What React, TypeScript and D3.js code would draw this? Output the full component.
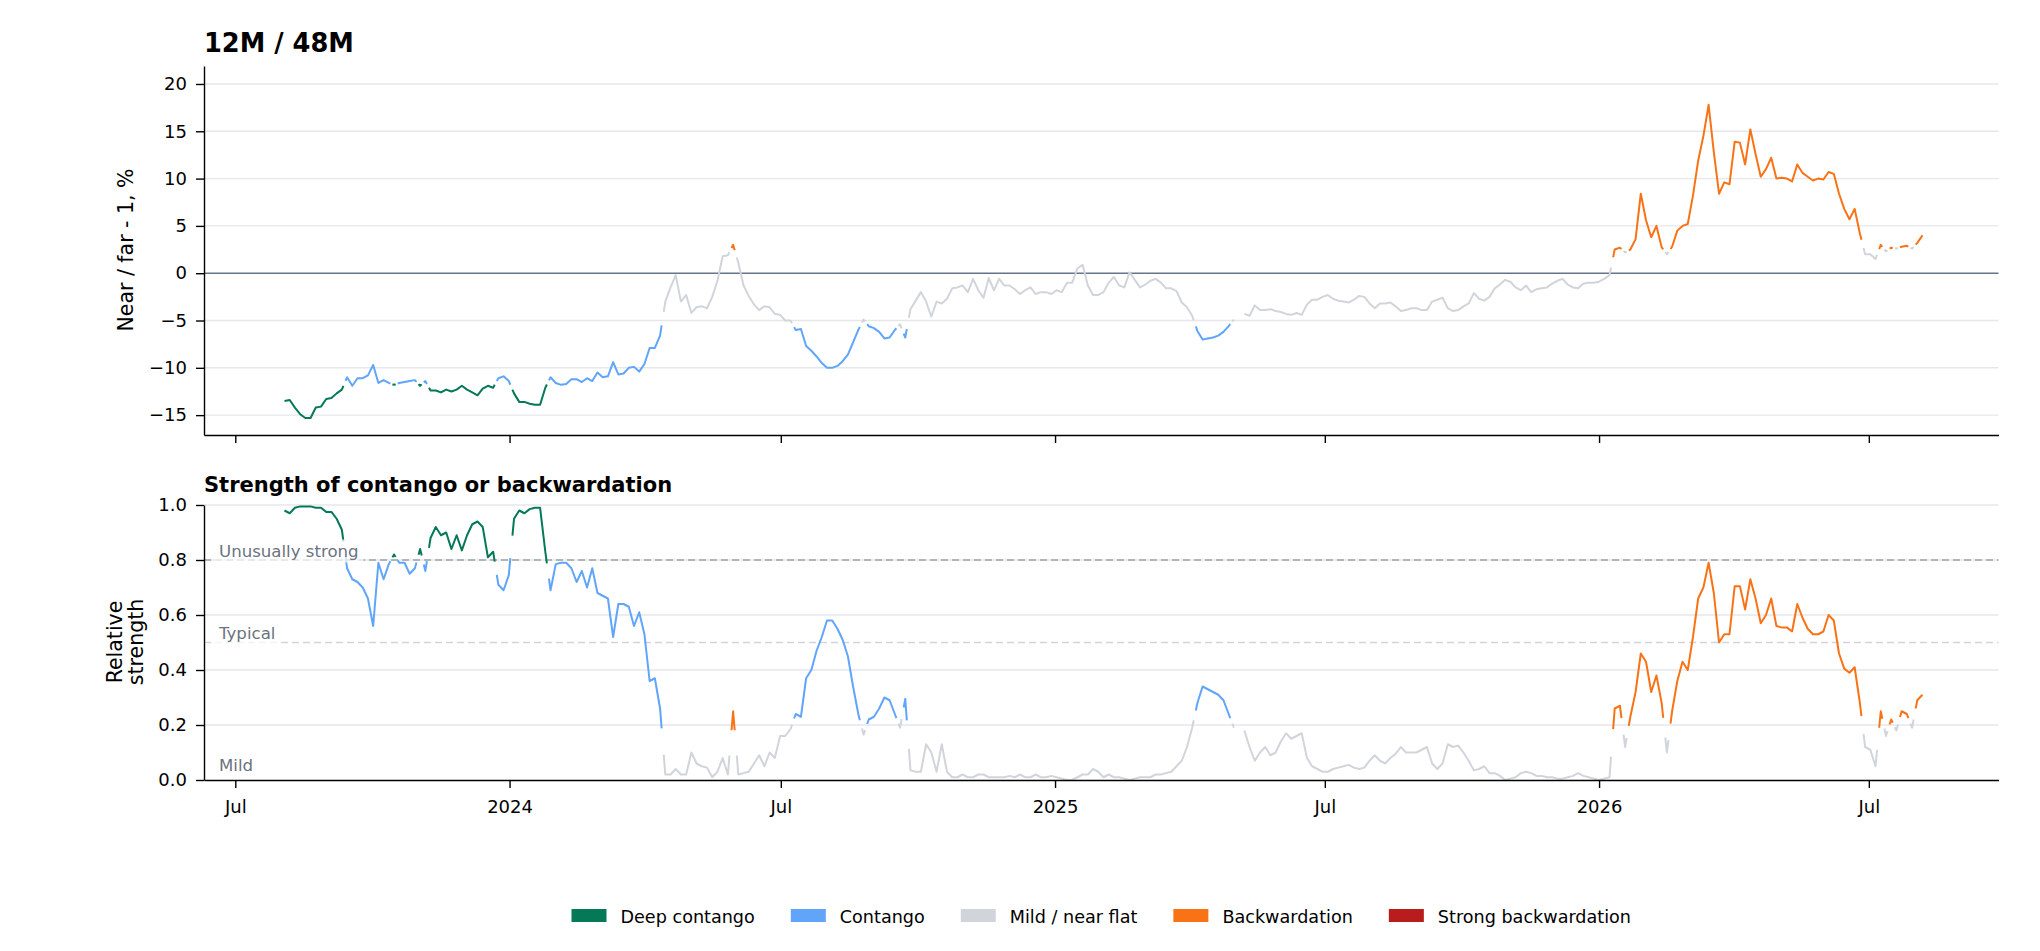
import { useEffect, useRef } from 'react';
import * as d3 from 'd3';

const WIDTH = 2040;
const HEIGHT = 951;

// observations sampled twice a week, starting 3 Aug 2023
const sampleStart = new Date(2023, 7, 3);
const sampleStepDays = 3.5;

// 12M / 48M: near / far - 1, %
const spread = [
  -13.5, -13.4, -14.2, -14.9, -15.3, -15.3, -14.2, -14.1, -13.3, -13.2,
  -12.7, -12.3, -11.0, -11.9, -11.1, -11.1, -10.8, -9.7, -11.6, -11.3,
  -11.6, -11.8, -11.6, -11.5, -11.4, -11.3, -11.9, -11.4, -12.4, -12.4,
  -12.6, -12.3, -12.5, -12.3, -11.9, -12.3, -12.6, -12.9, -12.2, -11.9,
  -12.1, -11.1, -10.9, -11.4, -12.7, -13.6, -13.6, -13.8, -13.9, -13.9,
  -12.1, -11.0, -11.6, -11.8, -11.7, -11.2, -11.2, -11.5, -11.1, -11.4,
  -10.5, -11.0, -10.9, -9.4, -10.7, -10.6, -10.0, -9.9, -10.4, -9.6,
  -7.9, -7.9, -6.6, -3.0, -1.5, -0.2, -3.0, -2.3, -4.2, -3.6,
  -3.5, -3.7, -2.5, -0.8, 1.8, 1.9, 3.0, 1.1, -1.3, -2.4,
  -3.3, -3.9, -3.5, -3.6, -4.3, -4.4, -5.0, -5.0, -6.0, -5.9,
  -7.7, -8.2, -8.8, -9.5, -10.0, -10.0, -9.8, -9.3, -8.6, -7.3,
  -6.0, -4.9, -5.6, -5.8, -6.2, -6.9, -6.8, -6.0, -5.4, -6.8,
  -3.8, -2.9, -2.0, -3.0, -4.6, -3.0, -3.2, -2.7, -1.6, -1.5,
  -1.3, -2.0, -0.6, -1.8, -2.6, -0.5, -1.8, -0.6, -1.3, -1.3,
  -1.7, -2.2, -1.8, -1.5, -2.2, -2.0, -2.0, -2.2, -1.8, -2.0,
  -1.0, -1.0, 0.5, 0.9, -1.3, -2.3, -2.3, -2.0, -1.0, -0.4,
  -1.3, -1.5, 0.1, -0.7, -1.5, -1.2, -0.8, -0.6, -1.0, -1.6,
  -1.6, -1.9, -3.1, -3.6, -4.5, -6.1, -7.0, -6.9, -6.8, -6.6,
  -6.2, -5.6, -4.9, null, -4.3, -4.5, -3.4, -3.9, -3.9, -3.8,
  -4.0, -4.1, -4.3, -4.4, -4.2, -4.4, -3.3, -2.8, -2.8, -2.5,
  -2.3, -2.7, -2.9, -3.0, -3.1, -2.8, -2.4, -2.5, -3.2, -3.7,
  -3.2, -3.2, -3.1, -3.5, -4.0, -3.9, -3.7, -3.7, -3.9, -3.9,
  -3.0, -2.8, -2.6, -3.7, -4.0, -3.9, -3.5, -3.2, -2.1, -2.7,
  -2.9, -2.5, -1.6, -1.2, -0.7, -0.9, -1.5, -1.8, -1.3, -2.0,
  -1.7, -1.6, -1.5, -1.1, -0.8, -0.6, -1.2, -1.5, -1.6, -1.1,
  -1.0, -1.0, -0.9, -0.6, -0.2, 2.5, 2.7, 2.2, 2.5, 3.6,
  8.4, 5.6, 3.8, 5.0, 2.75, 2.0, 2.8, 4.5, 5.0, 5.2,
  8.2, 11.9, 14.5, 17.8, 12.8, 8.4, 9.6, 9.4, 13.9, 13.8,
  11.5, 15.2, 12.6, 10.2, 11.0, 12.2, 10.0, 10.1, 10.0, 9.7,
  11.5, 10.6, 10.2, 9.8, 10.0, 9.9, 10.7, 10.5, 8.4, 6.8,
  5.7, 6.8, 4.2, 2.0, 2.0, 1.5, 3.0, 2.3, 2.7, 2.6,
  2.8, 2.9, 2.6, 3.2, 4.0,
];

// relative strength of contango / backwardation, 0..1
const strength = [
  0.98, 0.97, 0.99, 0.995, 0.995, 0.995, 0.99, 0.99, 0.975, 0.975,
  0.95, 0.91, 0.77, 0.73, 0.72, 0.70, 0.66, 0.56, 0.79, 0.73,
  0.785, 0.82, 0.79, 0.79, 0.75, 0.77, 0.84, 0.76, 0.88, 0.92,
  0.89, 0.90, 0.84, 0.89, 0.835, 0.89, 0.93, 0.94, 0.92, 0.81,
  0.83, 0.71, 0.69, 0.745, 0.95, 0.98, 0.97, 0.985, 0.99, 0.99,
  0.83, 0.69, 0.785, 0.79, 0.79, 0.77, 0.72, 0.76, 0.70, 0.77,
  0.68, 0.67, 0.66, 0.52, 0.64, 0.64, 0.63, 0.56, 0.61, 0.53,
  0.36, 0.37, 0.26, 0.02, 0.02, 0.04, 0.02, 0.02, 0.10, 0.06,
  0.05, 0.045, 0.01, 0.03, 0.08, 0.02, 0.25, 0.02, 0.025, 0.03,
  0.06, 0.09, 0.05, 0.10, 0.08, 0.16, 0.16, 0.185, 0.24, 0.23,
  0.37, 0.40, 0.47, 0.52, 0.58, 0.58, 0.55, 0.51, 0.45, 0.34,
  0.24, 0.165, 0.22, 0.23, 0.26, 0.30, 0.29, 0.24, 0.19, 0.295,
  0.035, 0.03, 0.03, 0.13, 0.10, 0.03, 0.13, 0.03, 0.01, 0.01,
  0.02, 0.01, 0.01, 0.02, 0.02, 0.01, 0.01, 0.01, 0.01, 0.015,
  0.01, 0.02, 0.01, 0.01, 0.02, 0.01, 0.01, 0.015, 0.01, 0.005,
  0.0, 0.0, 0.01, 0.02, 0.02, 0.04, 0.03, 0.01, 0.02, 0.01,
  0.01, 0.005, 0.0, 0.005, 0.01, 0.01, 0.01, 0.02, 0.02, 0.025,
  0.03, 0.05, 0.07, 0.12, 0.19, 0.28, 0.34, 0.33, 0.32, 0.31,
  0.29, 0.24, 0.19, null, 0.18, 0.12, 0.07, 0.10, 0.12, 0.09,
  0.10, 0.14, 0.17, 0.15, 0.16, 0.17, 0.08, 0.05, 0.04, 0.03,
  0.03, 0.04, 0.045, 0.05, 0.055, 0.045, 0.04, 0.045, 0.07, 0.09,
  0.07, 0.06, 0.08, 0.095, 0.12, 0.10, 0.10, 0.10, 0.11, 0.12,
  0.06, 0.04, 0.06, 0.13, 0.12, 0.125, 0.10, 0.07, 0.035, 0.04,
  0.05, 0.025, 0.025, 0.015, 0.0, 0.005, 0.01, 0.025, 0.03, 0.025,
  0.015, 0.015, 0.01, 0.01, 0.005, 0.005, 0.01, 0.015, 0.025, 0.015,
  0.01, 0.005, 0.0, 0.005, 0.01, 0.26, 0.27, 0.12, 0.23, 0.32,
  0.46, 0.43, 0.32, 0.38, 0.28, 0.10, 0.25, 0.36, 0.43, 0.40,
  0.52, 0.66, 0.70, 0.79, 0.68, 0.50, 0.53, 0.53, 0.705, 0.705,
  0.62, 0.73, 0.66, 0.57, 0.60, 0.66, 0.56, 0.555, 0.555, 0.54,
  0.64, 0.59, 0.55, 0.53, 0.53, 0.54, 0.60, 0.58, 0.46, 0.405,
  0.39, 0.41, 0.28, 0.12, 0.11, 0.05, 0.25, 0.16, 0.22, 0.18,
  0.25, 0.24, 0.19, 0.29, 0.31,
];

const xTickDates = ['2023-07-01', '2024-01-01', '2024-07-01', '2025-01-01', '2025-07-01', '2026-01-01', '2026-07-01'];
const xTickLabels = ['Jul', '2024', 'Jul', '2025', 'Jul', '2026', 'Jul'];
const spreadTicks = [-15, -10, -5, 0, 5, 10, 15, 20];
const strengthTicks = [0, 0.2, 0.4, 0.6, 0.8, 1.0];

const regimeLabels = ['Deep contango', 'Contango', 'Mild / near flat', 'Backwardation', 'Strong backwardation'];
const regimeColors = ['#047857', '#60a5fa', '#d1d5db', '#f97316', '#b91c1c'];

// strength cut-offs: mild at or below, unusually strong above
const mildCut = 0.2;
const strongCut = 0.8;

const refLevels = [0.8, 0.5];
const refColors = ['#9ca3af', '#d1d5db'];
const bandLabels = ['Unusually strong', 'Typical', 'Mild'];
const bandLabelLevels = [0.8, 0.5, 0.02];

const FONT = '"DejaVu Sans", sans-serif';

function regimeOf(sp, st) {
  if (sp == null || st == null) return -1;
  if (st <= mildCut) return 2;
  if (sp < 0) return st > strongCut ? 0 : 1;
  return st > strongCut ? 4 : 3;
}

// split a series into same-regime runs, leaving a small gap where the regime changes
function buildRuns(vals, xs, yScale, regime) {
  const runs = [];
  let cur = null;
  const n = vals.length;
  const P = (i) => [xs[i], yScale(vals[i])];
  const lerp = (a, b, t) => [a[0] + (b[0] - a[0]) * t, a[1] + (b[1] - a[1]) * t];
  for (let i = 0; i < n; i++) {
    if (vals[i] == null || regime[i] < 0) { cur = null; continue; }
    const p = P(i);
    if (!cur) {
      cur = { r: regime[i], pts: [] };
      runs.push(cur);
      if (i > 0 && vals[i - 1] != null && regime[i - 1] >= 0) cur.pts.push(lerp(P(i - 1), p, 0.7));
    }
    cur.pts.push(p);
    if (i < n - 1 && vals[i + 1] != null && regime[i + 1] >= 0 && regime[i + 1] !== regime[i]) {
      cur.pts.push(lerp(p, P(i + 1), 0.3));
      cur = null;
    }
  }
  return runs;
}

export default function App() {
  const svgRef = useRef(null);

  useEffect(() => {
    if (!svgRef.current) return;
    const svg = d3.select(svgRef.current);
    svg.selectAll('*').remove();

    const parse = d3.timeParse('%Y-%m-%d');
    const left = 204;
    const right = 1998.5;

    const x = d3.scaleTime()
      .domain([parse('2023-06-10'), parse('2026-09-26')])
      .range([left, right]);
    const yTop = d3.scaleLinear().domain([-17.1, 21.9]).range([435, 66]);
    const yBot = d3.scaleLinear().domain([0, 1]).range([780, 505]);

    const dates = spread.map((_, i) => new Date(sampleStart.getTime() + i * sampleStepDays * 864e5));
    const xs = dates.map(d => x(d));
    const regime = spread.map((v, i) => regimeOf(v, strength[i]));
    const tickDates = xTickDates.map(d => parse(d));

    svg.append('rect').attr('width', WIDTH).attr('height', HEIGHT).attr('fill', '#fff');

    // ---------- top panel ----------
    const top = svg.append('g');
    top.selectAll('.grid')
      .data(spreadTicks.filter(t => t !== 0))
      .enter()
      .append('line')
      .attr('x1', left).attr('x2', right)
      .attr('y1', d => yTop(d)).attr('y2', d => yTop(d))
      .attr('stroke', '#e5e7eb').attr('stroke-width', 1.4);

    top.append('line')
      .attr('x1', left).attr('x2', right)
      .attr('y1', yTop(0)).attr('y2', yTop(0))
      .attr('stroke', '#64748b').attr('stroke-width', 1.6);

    const line = d3.line();
    top.selectAll('.run')
      .data(buildRuns(spread, xs, yTop, regime))
      .enter()
      .append('path')
      .attr('d', r => line(r.pts))
      .attr('fill', 'none')
      .attr('stroke', r => regimeColors[r.r])
      .attr('stroke-width', 2)
      .attr('stroke-linejoin', 'round');

    const styleAxis = (g) => {
      g.attr('font-family', FONT).attr('font-size', 18);
      g.selectAll('path').attr('stroke', '#000').attr('stroke-width', 1.4);
      g.selectAll('line').attr('stroke', '#000').attr('stroke-width', 1.4);
      g.selectAll('text').attr('fill', '#000');
    };

    top.append('g')
      .attr('transform', `translate(${left},0)`)
      .call(d3.axisLeft(yTop).tickValues(spreadTicks).tickSize(8).tickSizeOuter(0).tickPadding(9)
        .tickFormat(d => (d < 0 ? '\u2212' + Math.abs(d) : String(d))))
      .call(styleAxis);

    top.append('g')
      .attr('transform', `translate(0,435)`)
      .call(d3.axisBottom(x).tickValues(tickDates).tickSize(8).tickSizeOuter(0).tickFormat(() => ''))
      .call(styleAxis);

    top.append('text')
      .attr('x', left).attr('y', 52)
      .attr('font-family', FONT).attr('font-size', 25.7).attr('font-weight', 'bold')
      .text('12M / 48M');

    top.append('text')
      .attr('transform', `translate(126,250) rotate(-90)`)
      .attr('text-anchor', 'middle').attr('dy', '0.35em')
      .attr('font-family', FONT).attr('font-size', 20.5)
      .text('Near / far - 1, %');

    // ---------- bottom panel ----------
    const bot = svg.append('g');
    bot.selectAll('.grid')
      .data(strengthTicks.filter(t => t > 0))
      .enter()
      .append('line')
      .attr('x1', left).attr('x2', right)
      .attr('y1', d => yBot(d)).attr('y2', d => yBot(d))
      .attr('stroke', '#e5e7eb').attr('stroke-width', 1.4);

    bot.selectAll('.ref')
      .data(refLevels)
      .enter()
      .append('line')
      .attr('x1', left).attr('x2', right)
      .attr('y1', d => yBot(d)).attr('y2', d => yBot(d))
      .attr('stroke', (d, i) => refColors[i]).attr('stroke-width', 1.5)
      .attr('stroke-dasharray', '7,4');

    bot.selectAll('.run')
      .data(buildRuns(strength, xs, yBot, regime))
      .enter()
      .append('path')
      .attr('d', r => line(r.pts))
      .attr('fill', 'none')
      .attr('stroke', r => regimeColors[r.r])
      .attr('stroke-width', 2)
      .attr('stroke-linejoin', 'round');

    // band labels on a translucent white box
    bandLabels.forEach((label, i) => {
      const gl = bot.append('g');
      const t = gl.append('text')
        .attr('x', 219).attr('y', yBot(bandLabelLevels[i]) - 3.5)
        .attr('font-family', FONT).attr('font-size', 16.6)
        .attr('fill', '#6b7280')
        .text(label);
      const bb = (t.node() as SVGTextElement).getBBox();
      gl.insert('rect', 'text')
        .attr('x', bb.x - 5).attr('y', bb.y - 2)
        .attr('width', bb.width + 10).attr('height', bb.height + 4)
        .attr('fill', '#fff').attr('opacity', 0.7);
    });

    bot.append('g')
      .attr('transform', `translate(${left},0)`)
      .call(d3.axisLeft(yBot).tickValues(strengthTicks).tickSize(8).tickSizeOuter(0).tickPadding(9)
        .tickFormat(d3.format('.1f')))
      .call(styleAxis);

    bot.append('g')
      .attr('transform', `translate(0,780)`)
      .call(d3.axisBottom(x).tickValues(tickDates).tickSize(8).tickSizeOuter(0).tickPadding(12)
        .tickFormat((d, i) => xTickLabels[i]))
      .call(styleAxis);

    bot.append('text')
      .attr('x', left).attr('y', 492)
      .attr('font-family', FONT).attr('font-size', 21).attr('font-weight', 'bold')
      .text('Strength of contango or backwardation');

    ['Relative', 'strength'].forEach((s, i) => {
      bot.append('text')
        .attr('transform', `translate(${115 + i * 21},642) rotate(-90)`)
        .attr('text-anchor', 'middle').attr('dy', '0.35em')
        .attr('font-family', FONT).attr('font-size', 20.5)
        .text(s);
    });

    // ---------- legend ----------
    const leg = svg.append('g');
    const items = regimeLabels.map((label, i) => {
      const g = leg.append('g');
      g.append('rect').attr('width', 35).attr('height', 13).attr('y', 909).attr('fill', regimeColors[i]);
      const t = g.append('text').attr('x', 49).attr('y', 923)
        .attr('font-family', FONT).attr('font-size', 17.6).text(label);
      return { g, w: 49 + (t.node() as SVGTextElement).getComputedTextLength() };
    });
    const gap = 36;
    const total = d3.sum(items, d => d.w) + gap * (items.length - 1);
    let cx = (left + right) / 2 - total / 2;
    items.forEach(it => {
      it.g.attr('transform', `translate(${cx},0)`);
      cx += it.w + gap;
    });
  }, []);

  return (
    <svg
      ref={svgRef}
      width={WIDTH}
      height={HEIGHT}
      style={{ position: 'absolute', left: 0, top: 0, display: 'block' }}
    />
  );
}
